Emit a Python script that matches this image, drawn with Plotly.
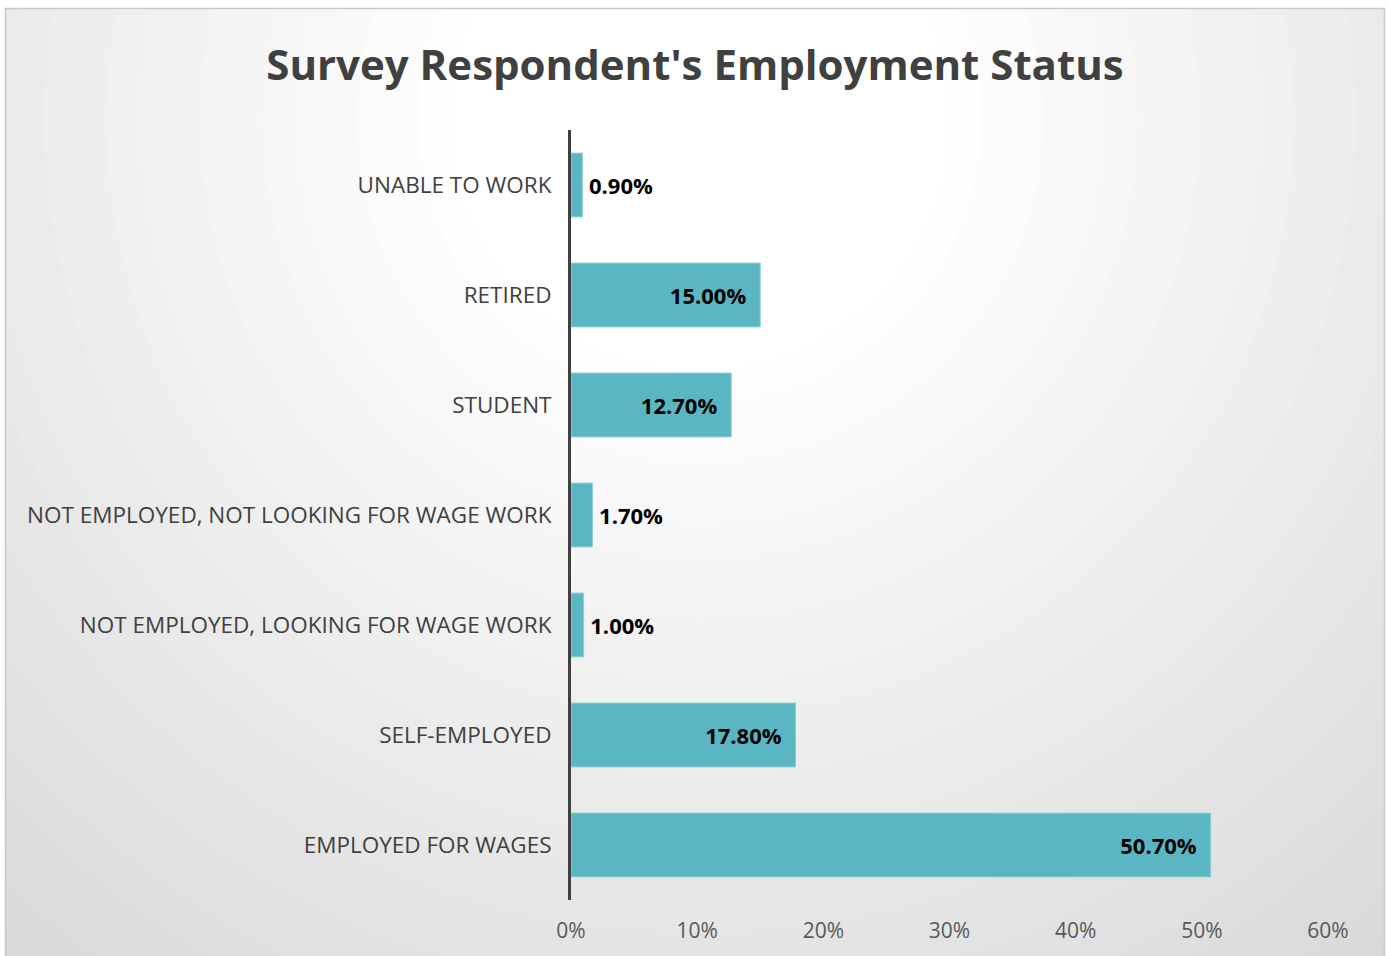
import plotly.graph_objects as go

categories = [
    "EMPLOYED FOR WAGES",
    "SELF-EMPLOYED",
    "NOT EMPLOYED, LOOKING FOR WAGE WORK",
    "NOT EMPLOYED, NOT LOOKING FOR WAGE WORK",
    "STUDENT",
    "RETIRED",
    "UNABLE TO WORK",
]
values = [50.7, 17.8, 1.0, 1.7, 12.7, 15.0, 0.9]
labels = ["50.70%", "17.80%", "1.00%", "1.70%", "12.70%", "15.00%", "0.90%"]
x_ticks = [0, 10, 20, 30, 40, 50, 60]
x_ticklabels = ["0%", "10%", "20%", "30%", "40%", "50%", "60%"]

W, H = 1388, 956
ML, MR, MT, MB = 571, 60, 130, 56
PW, PH = W - ML - MR, H - MT - MB


def px(xp):
    return (xp - ML) / PW


def py(yp):
    return (H - MB - yp) / PH


positions = ["inside" if v > 5 else "outside" for v in values]
templates = ["%{text}\u2002" if v > 5 else "\u2009%{text}" for v in values]

label_font = dict(family="Open Sans", size=22, color="#000000", weight="bold")

fig = go.Figure(
    go.Bar(
        y=categories,
        x=values,
        orientation="h",
        text=labels,
        texttemplate=templates,
        textposition=positions,
        insidetextanchor="end",
        textangle=0,
        cliponaxis=False,
        marker=dict(color="#5bb6c4", line=dict(color="#8ccfd8", width=1)),
        width=0.58,
        textfont=label_font,
        insidetextfont=label_font,
        outsidetextfont=label_font,
        hoverinfo="skip",
    )
)

# radial gradient background approximated with concentric circles
shapes = []
cx, cy = 700, 120
N = 40
Rmax = 1250
for i in range(N):
    r = Rmax * (N - i) / N
    t = max(0.0, (r - 250) / (1100 - 250))
    t = min(t, 1.0)
    g = int(round(255 - (255 - 217) * t))
    col = f"rgb({g},{g},{g})"
    shapes.append(dict(
        type="circle", xref="paper", yref="paper",
        x0=px(cx - r), x1=px(cx + r), y0=py(cy + r), y1=py(cy - r),
        fillcolor=col, line=dict(width=0), layer="below",
    ))
# white outside the chart frame
shapes.append(dict(type="rect", xref="paper", yref="paper",
                   x0=px(-10), x1=px(W + 10), y0=py(8), y1=py(-10),
                   fillcolor="white", line=dict(width=0), layer="below"))
shapes.append(dict(type="rect", xref="paper", yref="paper",
                   x0=px(-10), x1=px(5), y0=py(H + 10), y1=py(-10),
                   fillcolor="white", line=dict(width=0), layer="below"))
shapes.append(dict(type="rect", xref="paper", yref="paper",
                   x0=px(1385), x1=px(W + 10), y0=py(H + 10), y1=py(-10),
                   fillcolor="white", line=dict(width=0), layer="below"))
# frame
shapes.append(dict(type="rect", xref="paper", yref="paper",
                   x0=px(5.5), x1=px(1384.5), y0=py(H + 10), y1=py(8.5),
                   fillcolor="rgba(0,0,0,0)", line=dict(color="#c8c8c8", width=1.5),
                   layer="below"))

fig.update_layout(
    width=W, height=H,
    margin=dict(l=ML, r=MR, t=MT, b=MB, pad=0, autoexpand=False),
    paper_bgcolor="#d9d9d9",
    plot_bgcolor="rgba(0,0,0,0)",
    showlegend=False,
    shapes=shapes,
    title=dict(
        text="<b>Survey Respondent's Employment Status</b>",
        font=dict(family="Open Sans", size=42, color="#404040"),
        x=695 / W, xref="container", xanchor="center",
        y=1 - 65 / H, yref="container", yanchor="middle",
        automargin=False,
    ),
    xaxis=dict(
        range=[0, 60],
        tickvals=x_ticks,
        ticktext=x_ticklabels,
        showgrid=False,
        zeroline=False,
        showline=False,
        automargin=False,
        ticks="outside", ticklen=12, tickcolor="rgba(0,0,0,0)",
        tickfont=dict(family="Open Sans", size=21, color="#595959"),
    ),
    yaxis=dict(
        categoryorder="array",
        categoryarray=categories,
        range=[-0.5, 6.5],
        showgrid=False,
        zeroline=False,
        automargin=False,
        showline=True, linecolor="#404040", linewidth=3,
        ticks="outside", ticklen=12, tickcolor="rgba(0,0,0,0)",
        tickfont=dict(family="Open Sans", size=22.5, color="#404040"),
    ),
    uniformtext=dict(mode=False),
)

fig.write_html(
    "out.html",
    config={"displayModeBar": False},
    post_script="document.body.style.margin='0';document.body.style.padding='0';",
)
